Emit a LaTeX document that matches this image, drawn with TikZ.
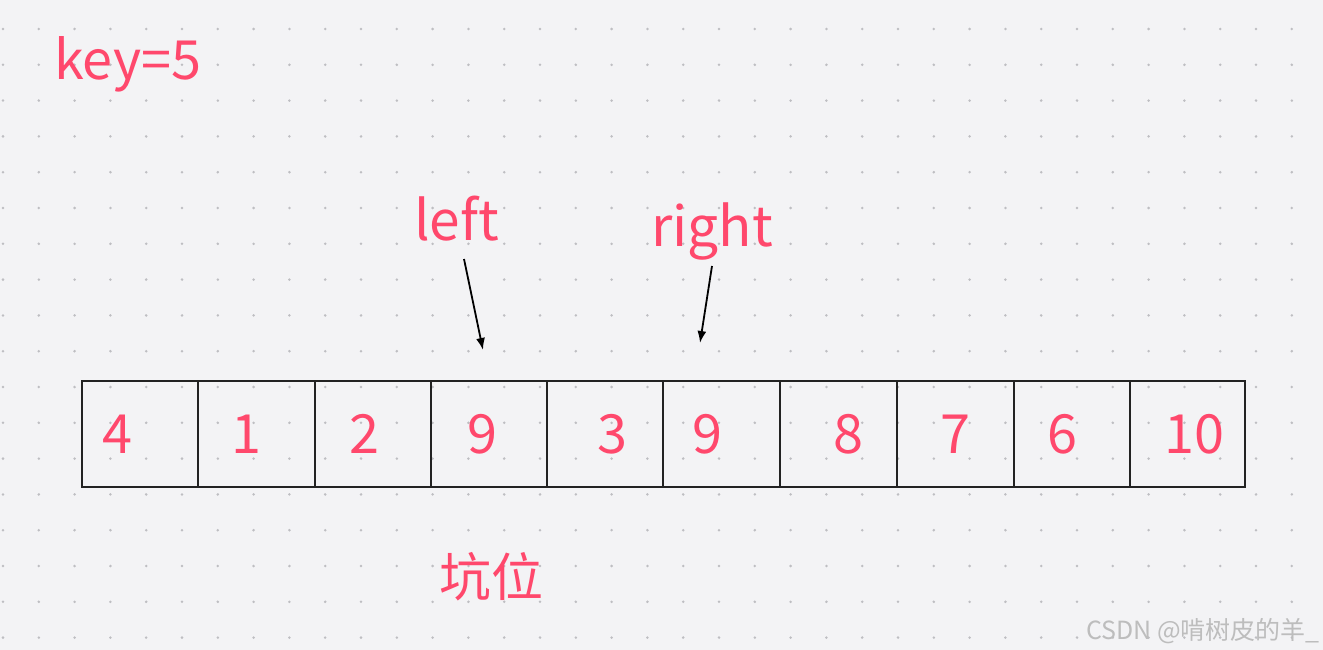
\documentclass[tikz,border=0pt]{standalone}
\usepackage{fontspec}
\newfontfamily\cjk{Noto Sans CJK SC}
\usepackage{tikz}
\usetikzlibrary{arrows.meta}
\definecolor{pagebg}{RGB}{243,243,245}
\definecolor{dotgray}{RGB}{190,190,194}
\definecolor{pinkred}{RGB}{255,72,108}
\definecolor{boxline}{RGB}{34,34,34}
\tikzset{
  celltxt/.style={text=pinkred, font=\cjk\fontsize{54}{54}\selectfont, inner sep=0pt, anchor=base},
  lbltxt/.style={text=pinkred, font=\cjk\fontsize{55}{55}\selectfont, inner sep=0pt, anchor=base west},
  cellbox/.style={draw=boxline, line width=2.6pt, minimum height=106pt, inner sep=0pt},
  pointer/.style={-{Latex[length=12pt,width=9pt]}, line width=1.8pt, black}
}

\begin{document}
\begin{tikzpicture}[x=1pt,y=-1pt]
        \useasboundingbox (0,0) rectangle (1323,650);
        \fill [pagebg] (0,0) rectangle (1323,650);
        % dot grid
        \foreach \i in {0,...,36}
            \foreach \j in {0,...,17}
                \fill [dotgray] (3+35.8*\i, 29+35.8*\j) circle (1.4);
        % array cells
        \foreach \a/\b/\k in {82/198/0, 198/315/1, 315/431/2, 431/547/3, 547/663/4,
                              663/780/5, 780/897/6, 897/1014/7, 1014/1130/8, 1130/1245/9}
            \node [cellbox, minimum width=\b pt-\a pt] (c\k) at ({(\a+\b)/2}, 434) {};
        \node [celltxt] (v0) at (117, 453) {4};
        \node [celltxt] (v1) at (246, 453) {1};
        \node [celltxt] (v2) at (364, 453) {2};
        \node [celltxt] (v3) at (482, 453) {9};
        \node [celltxt] (v4) at (612, 453) {3};
        \node [celltxt] (v5) at (707, 453) {9};
        \node [celltxt] (v6) at (848, 453) {8};
        \node [celltxt] (v7) at (955, 453) {7};
        \node [celltxt] (v8) at (1062, 453) {6};
        \node [celltxt] (v9) at (1194, 453) {10};
        % labels
        \node [lbltxt, font=\cjk\fontsize{54}{54}\selectfont] (key) at (54, 80) {key=5};
        \node [lbltxt] (lbl-left) at (414, 240) {left};
        \node [lbltxt] (lbl-right) at (651, 246) {right};
        \node [lbltxt, font=\cjk\fontsize{52}{52}\selectfont] (pit) at (439, 596) {坑位};
        % pointers
        \coordinate (left-tail) at (464, 259);
        \coordinate (left-tip) at (483, 350);
        \coordinate (right-tail) at (712, 266);
        \coordinate (right-tip) at (700, 343);
        \draw [pointer] (left-tail) -- (left-tip);
        \draw [pointer] (right-tail) -- (right-tip);
        % watermark
        \node [text=black!26, font=\cjk\fontsize{25}{25}\selectfont, inner sep=0pt, anchor=base east] (mark) at (1320, 639) {CSDN @啃树皮的羊\_};
    \end{tikzpicture}
\end{document}
